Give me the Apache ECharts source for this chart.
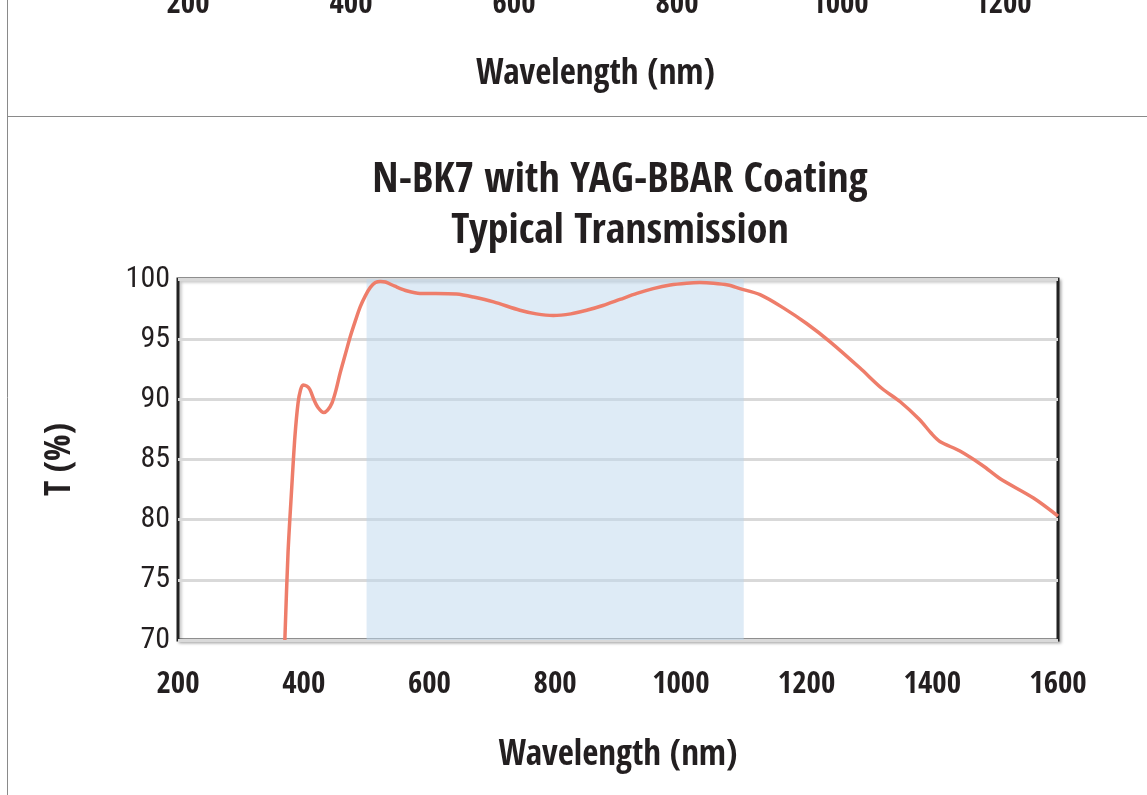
<!DOCTYPE html>
<html>
<head>
<meta charset="utf-8">
<script src="https://cdn.jsdelivr.net/npm/echarts@6/dist/echarts.min.js"></script>
<style>html,body{margin:0;padding:0;background:#fff;}#c{width:1147px;height:795px;}</style>
</head>
<body>
<div id="c"></div>
<script>
// ---- data ----
const wavelength = [370, 375, 381, 386, 391, 395, 399, 405, 410, 416, 423, 432, 438, 445, 451, 458, 466, 474, 482, 490, 498, 506, 514, 522, 530, 545, 565, 585, 610, 643, 670, 702, 744, 770, 797, 825, 850, 876, 903, 930, 956, 983, 1009, 1030, 1052, 1075, 1094, 1126, 1163, 1200, 1237, 1285, 1320, 1349, 1380, 1398, 1412, 1444, 1480, 1508, 1561, 1600];
const transmission = [70, 77.2, 82.7, 86.9, 89.7, 90.8, 91.2, 91.1, 90.8, 90.0, 89.3, 88.9, 89.1, 89.7, 90.7, 92.2, 93.7, 95.2, 96.5, 97.7, 98.6, 99.3, 99.7, 99.8, 99.75, 99.4, 99.0, 98.8, 98.8, 98.75, 98.5, 98.1, 97.4, 97.1, 96.96, 97.1, 97.4, 97.8, 98.3, 98.8, 99.2, 99.5, 99.65, 99.7, 99.65, 99.5, 99.2, 98.7, 97.6, 96.3, 94.8, 92.6, 90.9, 89.8, 88.3, 87.2, 86.5, 85.7, 84.5, 83.4, 81.8, 80.3];
const designBand = [500, 1100];
const xRange = [200, 1600];
const yRange = [70, 100];
const topXRange = [200, 1200];
const titleLines = ['N-BK7 with YAG-BBAR Coating', 'Typical Transmission'];
const xName = 'Wavelength (nm)';
const yName = 'T (%)';

const FONT = "'Open Sans Condensed', 'Roboto Condensed', sans-serif";
const FONT_Y = "'Roboto Condensed', 'Open Sans Condensed', sans-serif";
const INK = '#231F20';
const plain = v => String(v);

const chart = echarts.init(document.getElementById('c'), null, {renderer: 'canvas'});
chart.setOption({
  animation: false,
  backgroundColor: '#fff',
  textStyle: {fontFamily: FONT},
  title: {
    text: titleLines.join('\n'),
    left: 615, top: 151, textAlign: 'center',
    textStyle: {fontFamily: FONT, fontSize: 42, fontWeight: 'bold', color: INK, lineHeight: 51}
  },
  graphic: [
    {type: 'line', shape: {x1: 7.5, y1: 0, x2: 7.5, y2: 795}, style: {stroke: '#8a8a8a', lineWidth: 1}},
    {type: 'line', shape: {x1: 7, y1: 116.5, x2: 1147, y2: 116.5}, style: {stroke: '#8a8a8a', lineWidth: 1}}
  ],
  grid: [
    {left: 178, top: 279, width: 880, height: 361, show: true, borderColor: '#222', borderWidth: 3,
     outerBoundsMode: 'none',
     backgroundColor: '#fff', shadowColor: 'rgba(0,0,0,0.25)', shadowBlur: 3, shadowOffsetX: 2, shadowOffsetY: 2},
    {left: 188, top: -137, width: 815, height: 100, show: false, outerBoundsMode: 'none'}
  ],
  xAxis: [
    {type: 'value', gridIndex: 0, min: xRange[0], max: xRange[1], interval: 200,
     axisLine: {show: false}, axisTick: {show: false}, splitLine: {show: false},
     axisLabel: {margin: 29, fontSize: 31, fontWeight: 'bold', color: INK, fontFamily: FONT, formatter: plain},
     name: xName, nameLocation: 'middle', nameGap: 98,
     nameTextStyle: {fontSize: 35, fontWeight: 'bold', color: INK, fontFamily: FONT}},
    {type: 'value', gridIndex: 1, min: topXRange[0], max: topXRange[1], interval: 200,
     axisLine: {show: false}, axisTick: {show: false}, splitLine: {show: false},
     axisLabel: {margin: 26, fontSize: 31, fontWeight: 'bold', color: INK, fontFamily: FONT, formatter: plain},
     name: xName, nameLocation: 'middle', nameGap: 94,
     nameTextStyle: {fontSize: 35, fontWeight: 'bold', color: INK, fontFamily: FONT}},
  ],
  yAxis: [
    {type: 'value', gridIndex: 0, min: yRange[0], max: yRange[1], interval: 5,
     axisLine: {show: false}, axisTick: {show: false},
     splitLine: {show: true, lineStyle: {color: '#D9D9D9', width: 3}},
     axisLabel: {margin: 8, fontSize: 30, fontWeight: 'normal', color: INK, fontFamily: FONT_Y, formatter: plain},
     name: yName, nameLocation: 'middle', nameGap: 100, nameRotate: 90,
     nameTextStyle: {fontSize: 35, fontWeight: 'bold', color: INK, fontFamily: FONT}},
    {type: 'value', gridIndex: 1, show: false, min: 0, max: 1}
  ],
  series: [
    {type: 'line', xAxisIndex: 0, yAxisIndex: 0,
     data: wavelength.map((w, i) => [w, transmission[i]]),
     showSymbol: false, smooth: 0.3, clip: true,
     lineStyle: {color: '#EE7D6A', width: 3.5},
     markArea: {silent: true, itemStyle: {color: 'rgba(190,215,238,0.5)'},
       data: [[{xAxis: designBand[0]}, {xAxis: designBand[1]}]]},
     z: 3}
  ]
});
</script>
</body>
</html>
